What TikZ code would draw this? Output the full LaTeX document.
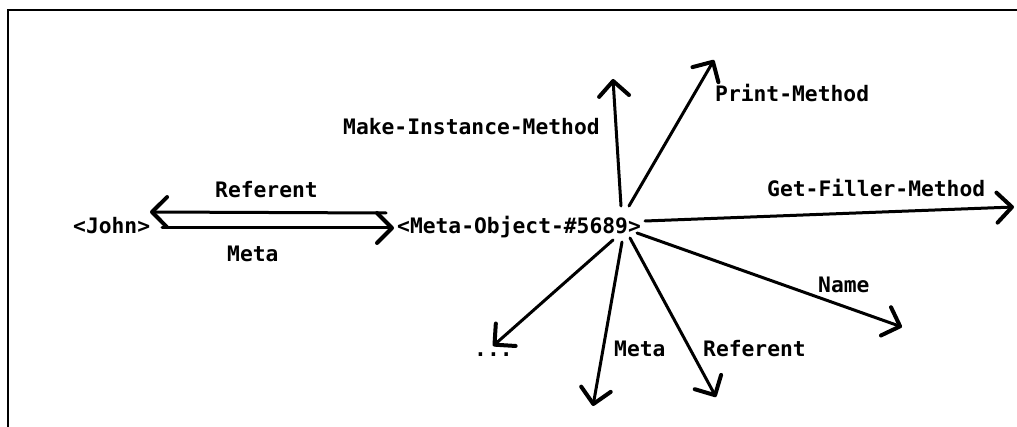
\documentclass[tikz,border=0pt]{standalone}
\usepackage{fontspec}
\usetikzlibrary{arrows.meta}
\newfontfamily\monofont{DejaVu Sans Mono}
\tikzset{
  lbl/.style={inner sep=0pt, anchor=base west, font=\monofont\bfseries\fontsize{21.3}{24}\selectfont},
  arr/.style={line width=3pt, line cap=round,
    -{Straight Barb[length=15pt,width=30pt,line width=4pt,round]}},
  frame/.style={line width=2.2pt}
}
\begin{document}
\begin{tikzpicture}[x=1pt,y=-1pt]
\useasboundingbox (0,0) rectangle (1017,427);
% open frame: top and left edges only
\coordinate (fr-a) at (8,427);
\coordinate (fr-b) at (8,10);
\coordinate (fr-c) at (1017,10);
\draw[frame] (fr-a) -- (fr-b) -- (fr-c);

% objects
\node[lbl] (john) at (73,234) {<John>};
\node[lbl] (mo) at (397,234) {<Meta-Object-\#5689>};

% links between the two objects
\coordinate (ref-s) at (386,213);
\coordinate (ref-e) at (150,212);
\coordinate (meta-s) at (162,228);
\coordinate (meta-e) at (394,228);
\draw[arr] (ref-s) -- (ref-e);
\draw[arr] (meta-s) -- (meta-e);
\node[lbl] (l-ref) at (215,198) {Referent};
\node[lbl] (l-meta) at (227,262) {Meta};

% slots radiating from the meta-object
\coordinate (mi-s) at (621,206);
\coordinate (mi-e) at (613,79);
\coordinate (pm-s) at (629,206);
\coordinate (pm-e) at (714,60);
\coordinate (gf-s) at (645,221);
\coordinate (gf-e) at (1014,207);
\coordinate (nm-s) at (637,233);
\coordinate (nm-e) at (902,327);
\coordinate (rf-s) at (630,238);
\coordinate (rf-e) at (716,397);
\coordinate (mt-s) at (622,242);
\coordinate (mt-e) at (593,406);
\coordinate (dt-s) at (613,240);
\coordinate (dt-e) at (493,346);

\draw[arr] (mi-s) -- (mi-e);
\draw[arr] (pm-s) -- (pm-e);
\draw[arr] (gf-s) -- (gf-e);
\draw[arr] (nm-s) -- (nm-e);
\draw[arr] (rf-s) -- (rf-e);
\draw[arr] (mt-s) -- (mt-e);
\draw[arr] (dt-s) -- (dt-e);

\node[lbl] (l-mi) at (343,135) {Make-Instance-Method};
\node[lbl] (l-pm) at (715,102) {Print-Method};
\node[lbl] (l-gf) at (767,197) {Get-Filler-Method};
\node[lbl] (l-nm) at (818,293) {Name};
\node[lbl] (l-rf) at (703,356) {Referent};
\node[lbl] (l-mt) at (614,356) {Meta};
\node[lbl] (l-dt) at (474,356) {...};
\end{tikzpicture}
\end{document}
